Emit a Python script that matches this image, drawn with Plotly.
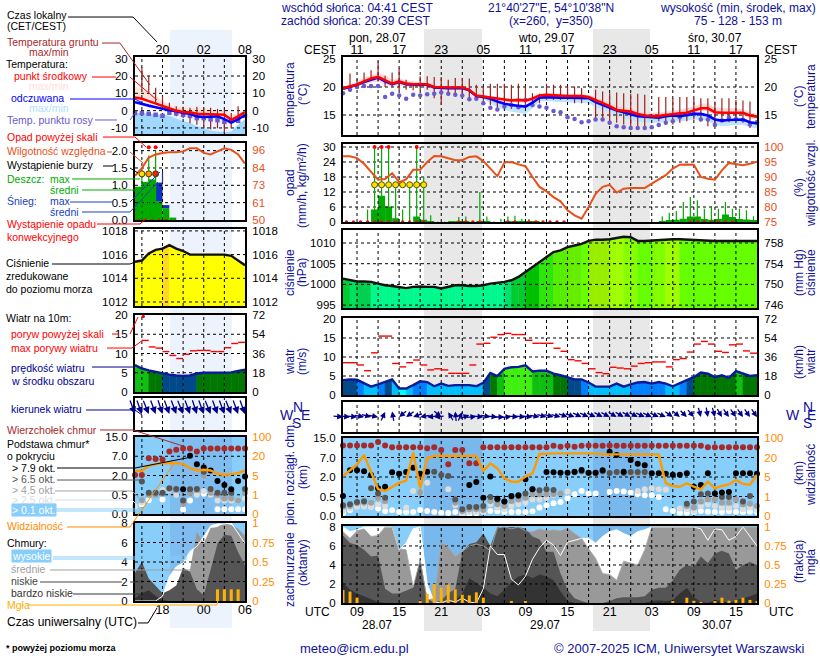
import math
import plotly.graph_objects as go

W, H = 820, 660
FONT = "Liberation Sans"
NAVY = "#10109a"
SKY = "#87cefa"

# ---- big panel: one value per hour, h = hours since 28.07 00 UTC ----
hours = list(range(7, 67))
temp_mid = [19.8,20.1,20.4,21,21.5,21.8,21.2,20.6,21,20.6,
            20.5,20.5,20.5,20,19.9,19.9,19.9,19.9,19.5,18.5,
            18.3,18.1,17.9,17.7,17.6,17.7,17.6,17.9,18.5,18.6,
            18.5,18.5,18.4,18.4,18.4,18.2,17.7,17.1,16.6,15.9,
            15.8,15.6,15.2,14.9,14.8,14.8,15,15.2,15.3,15.4,
            15.8,16.2,16.2,15.5,15.4,15.4,15.5,15.4,14.9,14.7]
temp_feel = [19.7,20,20.4,20.9,21.3,21.7,21,20.5,20.9,20.5,
             20.4,20.4,20.4,19.9,19.8,19.8,19.8,19.8,19.4,18.4,
             18.2,17.9,17.4,17,16.8,16.7,16.5,17.2,18.1,18.2,
             18.1,18.1,18.1,18.1,18.1,18,17.3,16.8,16.3,15.8,
             15.5,15.1,14.8,14.7,14.6,14.5,14.8,14.9,14.8,15,
             15.2,15.2,14.9,14.2,14,14.1,14.2,14.2,13.7,13.5]
temp_hi = [19.9,20.4,21,21.6,22.1,22.6,22.1,21.3,21.5,21.2,
           21,20.9,20.7,20.2,20.1,20,20,20,19.7,18.8,
           18.6,18.3,18.1,18,17.9,18,17.9,18.3,18.8,18.9,
           18.8,18.8,18.7,18.7,18.7,18.6,18.2,17.8,17.3,16.7,
           16.5,16.2,15.8,15.5,15.4,15.5,15.6,15.8,16,16.2,
           16.6,17,17.1,16.4,16.2,16.1,16.2,16,15.5,15.2]
temp_lo = [19.7,19.9,20.2,20.5,20.8,21,20.4,20,20.3,20.1,
           20.1,20,19.9,19.6,19.5,19.4,19.4,19.4,19.1,18.2,
           18,17.8,17.5,17.3,17.2,17.2,17.1,17.5,18.2,18.3,
           18.2,18.2,18.1,18.1,18.1,17.8,17.1,16.5,16,15.4,
           15.3,15.1,14.7,14.5,14.4,14.5,14.7,14.9,15,15.1,
           15.4,15.7,15.7,15,14.9,14.9,15,14.9,14.4,14.2]
feel_lo = [19.5,19.8,20.1,20.6,21,21.3,20.6,20.1,20.6,20.2,
           20.1,20.1,20.1,19.6,19.5,19.5,19.5,19.5,19.1,18.2,
           17.8,17.1,16.4,15.9,15.6,15.4,15.2,16.1,17.4,17.5,
           17.4,17.3,17.3,17.2,17.2,17.1,16.4,15.9,15.4,14.8,
           14.5,14.1,13.8,13.7,13.6,13.6,13.8,13.9,13.8,14,
           14.2,14.2,13.9,13.2,13,13.1,13.2,13.2,12.8,12.6]
dew_point = [18.9,19.5,20,20.2,20.2,20.2,18.2,18.8,18.5,17.9,
             18.6,18.5,18.7,18.8,19,18.8,18.6,18.5,17.8,17.9,
             17.1,16.3,16,16.5,16.8,16.4,17.7,16.8,16.5,16.3,
             15.7,15.5,14.6,14.3,13.7,13.9,14.2,14.2,13.6,13,
             12.8,12.7,12.7,12.7,12.8,13.2,13.6,13.9,14.6,15.1,
             15.2,14.2,14.2,13.2,14,14.5,14.3,14.1,13.3,13.7]
ground_max = [None,22.4,21.5,22.6,23,24.6,22,22.6,23.4,21.3,
              20.6,21.9,21.9,21.8,21.8,21.3,21.6,21.6,21.5,20.4,
              20.1,20.6,20.6,20.6,20.4,20.6,20.2,18.9,18.8,20.6,
              20.4,20.4,20.1,20.1,19.8,None,19.5,19.2,18.9,19,
              18.9,18.8,18.8,18.6,None,18.2,18.2,18,18.2,18.2,
              18,18,18,17.4,18,18,17.7,17.6,17.4,None]
ground_min = [None,20.2,20.1,20.8,21.3,21,20,20.1,19.4,19.5,
              19.4,19.4,19.5,18,16.8,18.6,18.3,18,17.7,17.7,
              17.1,16.8,16.3,16.3,16.1,16.3,16.3,16.8,17.1,17.7,
              17.7,17.7,17.7,17.1,17.1,None,14.2,13.9,13.7,13.6,
              13.3,13,12.7,13,None,13.9,13.6,13.3,13.6,13.9,
              14.2,13.9,13,13,13.9,13.7,13.9,13.6,12.7,None]

rain_mean = [0,0,0,0,5,10.5,6.2,1.5,0,0,
             2.2,.9,.05,0,0,.05,.05,.05,0,.1,
             .2,0,0,.1,.3,.3,.1,.1,0,0,
             0,0,0,0,0,0,0,0,0,0,
             0,0,0,0,0,.4,.7,.9,1.3,2.2,
             2.2,1.2,.9,1.2,3,2,1.2,1,.6,0]
rain_max = [0,0,0,5,30,30,30,15,5,15,
            30,18,2.7,.2,.2,.2,2,2.2,.3,12,
            2.2,.2,1.3,2.2,2.5,1.3,1.2,.3,.2,0,
            0,0,0,0,0,0,0,0,0,0,
            0,0,0,0,0,2.3,3.7,4.4,8,10,
            8.7,5.3,6.4,5.3,8,5.3,5.3,4.7,2.3,0]
rain_over_x = [11.5, 12.5, 13.5, 17.5]
storm_x = [11.5, 12.5, 13.5, 14.5, 15.5, 16.5, 17.5, 18.5]
conv_x = [7.5,8.5,9.5,10.5,11.5,12.5,13.5,14.5,15.5,16.5,17.5,18.5,
          23.5,24.5,25.5,26.5,30.5,31.5,33.5,34.5,35.5,36.5,37.5,38.5,
          56.5,57.5,58.5,59.5,60.5,61.5,62.5]
humidity = [96.9,96.9,96.3,94.4,91.7,89.1,89.3,91.3,88.3,89.2,
            92.4,92.4,95,97,96.9,96.2,95.6,95.6,96.7,96.9,
            95.3,92.8,90.3,94.8,95,94.2,93.6,90,86.7,85.2,
            83.3,81.9,78.9,77.2,76.1,80,84.4,86.7,87.4,84.8,
            86.1,86.3,86.3,86.3,87.8,89.2,90.6,92.8,94.1,94.2,
            94.1,90,89.4,89.1,92.2,94.7,94.4,93.9,94.4,95.1]

pressure = [1001.4,1001,1000.7,1000.7,1000.6,1000.2,999.8,999.6,999.4,999.1,
            999.4,999.5,999.4,999.4,999,999.4,999.8,999.8,999.6,999.6,
            999.8,1000.2,1000.4,1000.6,1001,1001.8,1003,1004.2,1005.4,1006.8,
            1007.8,1008.2,1009,1009.4,1009.8,1010.5,1010.8,1010.8,1010.9,1011.2,
            1011.5,1011.4,1010.5,1010.5,1010.6,1010.8,1010.8,1010.9,1010.9,1010.8,
            1010.8,1010.6,1010.5,1010.5,1010.5,1010.5,1010.5,1010.5,1010.5,1010.5]
pressure_colors = ["#00cc33","#00e060","#00d050","#00d050"] + ["#00f88c"] * 19 + \
    ["#00e070","#00cc30","#00cc30","#00c000","#00c000","#2ee60a","#2ee60a",
     "#55ee00","#55ee00","#66ee00","#66ee00"] + ["#66ff00"] + ["#99ee00"] * 3 + \
    ["#a0ff00"] * 2 + ["#88ff00"] * 2 + ["#66ff00"] * 2 + ["#80ff00"] * 2 + \
    ["#a0ff00"] * 2 + ["#66ff00"] * 11

wind = [3.9,4.1,4,3,2.2,2.8,3.4,4.1,1.7,1.7,
        2.6,3.6,3.4,2.3,3,2.4,2.6,2.6,2.6,2.3,
        3.2,5.8,5,6.9,7.3,7.4,7.8,6.2,6.4,6.4,
        5.6,5.2,4.7,4.1,4.1,3.3,2.2,2.2,2.2,3,
        2.2,2.8,3.3,3.4,3,3.4,3,2.3,3.2,3.9,
        4.7,5.9,5.6,4.7,5.2,4.5,6.3,5.6,5,5.2]
gust = [8.5,8.5,7.9,6.4,11.1,15.5,15.5,8.3,7.4,8.5,
        9.2,7.9,6.6,6.9,6.6,5.7,5.7,5.7,7.9,13.4,
        13.6,15.2,15.9,16.2,15.9,15.9,14.4,13.6,13.6,13.6,
        12.3,11.5,9.3,9,8.3,6.9,5.9,5.6,7.3,7.1,
        6.9,7.6,8.3,8.5,8.7,8.7,7.4,9.3,9.6,11.3,
        13.4,14.1,13.4,11.5,11.2,13.2,13.4,11.6,11]
wind_to = [95,95,95,100,105,100,25,350,230,235,
           250,260,265,265,130,330,355,25,70,85,
           95,100,95,90,85,95,95,95,100,105,
           105,105,110,110,115,115,115,118,118,120,
           120,120,118,115,115,115,115,125,130,135,
           140,165,170,165,150,145,145,145,145,145]

# heights on the cloud axis, whose ticks (0, .5, 2, 7, 15 km) are evenly spaced
cloud_top = [3.61,3.61,3.61,3.61,3.61,3.79,3.61,3.52,3.52,3.52,
             3.52,3.52,3.47,3.52,3.38,2.65,3.38,3.38,2.7,2.7,
             3.52,3.52,3.52,3.52,3.52,3.52,3.52,3.52,3.52,3.52,
             3.6,3.55,3.6,3.55,3.6,3.62,3.6,3.6,3.62,3.6,
             3.6,3.6,3.6,3.6,3.6,3.6,3.6,3.6,3.6,3.6,
             3.6,3.6,3.52,3.52,3.52,3.52,3.52,3.52,3.52,3.52]
base_79 = [1.03,2.34,2.34,2.29,2.1,1.42,1.5,2.24,2.17,2.26,
           2.48,2.17,2.27,None,None,None,None,None,1.59,1.74,
           .94,2.02,.89,.74,1.03,1.06,1.88,1.37,None,2.26,
           2.24,2.22,2.22,2.27,2.36,2.22,2.22,2.34,3.3,3.13,
           2.27,2.87,2.68,2.6,2.19,2.19,2.17,2.12,2.12,2.19,
           1.5,1.59,2.19,1.16,1.2,1.23,2.19,2.19,2.19,2.17]
base_65 = [.55,.6,.72,.75,1.42,1.16,.94,None,None,None,
           None,None,None,2.27,2.1,2.05,.85,.34,.46,.46,
           .51,.97,.85,.74,1,1.03,1.16,1.37,1.32,1.37,
           1.33,None,None,2.24,2.3,2.2,2.2,2.3,2.2,2.25,
           2.2,2.25,2.25,2.25,None,None,None,None,None,.63,
           .74,1.11,1.16,None,.97,.97,None,.74,1.03,None]
base_45 = [.48,.51,.65,.68,.68,.94,.77,None,None,None,
           None,1.2,None,None,None,None,.68,.26,.34,.34,
           .31,.77,.6,.51,.77,.85,.94,1.11,1.11,1.11,
           1.11,1.16,None,None,None,None,None,None,None,None,
           None,2.19,2.19,2.22,None,None,None,None,None,.51,
           .43,.74,.85,.85,.68,.68,.85,.6,.63,.51]
base_25 = [.26,.38,.46,.48,.48,.6,.51,None,None,.43,
           1.28,1.2,1.71,None,None,1.37,.55,.14,.2,.2,
           .2,.6,.43,.34,.51,.6,.68,.85,.85,.94,
           1.06,None,1.25,None,None,None,None,None,None,None,
           None,None,1.28,1.37,1.42,1.37,1.35,None,.39,.34,
           .26,.51,.6,.51,.43,.43,.51,.34,.43,.31]
base_01 = [.14,.31,.51,.51,.48,.39,.26,.29,.2,.2,
           .2,.31,.26,.2,.17,.15,.2,.09,.09,.14,
           .22,.26,.24,.2,.2,.2,.2,.24,.43,.55,
           .65,.72,.91,1.11,1.28,1.16,1.16,None,1.23,1.28,
           1.25,1.2,1.11,1.06,1.06,.97,.34,.26,.17,.17,
           .2,.26,.22,.2,.2,.24,.2,.2,.22,.2]
visibility = [2.05,2.36,2.65,3.13,2.2,1.37,1.28,1.47,1.7,1.81,
              3.26,1.42,2.96,3.08,3.08,3.08,3.08,3.08,3.08,3.08,
              2.31,2.7,2.44,1.93,1.76,1.76,2.02,2.19,3.18,3.21,
              3.21,3.21,3.21,3.21,3.21,3.24,3.21,3.16,3.16,3.16,
              3.16,3.16,3.16,3.16,3.16,3.16,1.68,1.54,1.5,1.68,
              1.5,1.37,1.76,1.42,1.54,1.62,1.85,1.65,1.6,2.1]

cloud_high = [8,7.5,7.7,8,8,8,8,8,5.6,6.3,
              7.8,8,2,.1,0,.3,.1,.5,.1,0,
              1.5,6,5.1,5.1,2.5,1.9,2.8,4.6,5.8,6.6,
              6.1,5,6.4,6.6,6.8,6.8,6.3,7,7.5,7.7,
              7.3,7,7.5,7.7,8,8,8,8,8,8,
              8,7.8,6.6,7.8,7.7,6.6,7,8,7,6]
cloud_mid = [7.5,6.8,7.6,7.8,7,7.1,8,8,5.7,5.6,
             1.7,4.5,.3,.5,6.4,5.9,4.9,5.5,6,6.2,
             6,5.5,7.9,8,7.8,8,7.6,7.5,7.8,7.6,
             7.7,7.6,7.9,7.3,6.8,5.7,4.7,3.1,3,2.4,
             4.4,4.2,4,5.6,8,8,8,8,8,8,
             8,8,8,8,8,8,8,8,8,8]
cloud_low = [7.1,6.3,6.1,5.6,4.9,5,1.5,1,1,1.3,
             1.6,4.7,.5,0,.3,1,1.5,5.3,6.2,6.4,
             7.3,6,8,8,8,8,7.8,7,6.7,5.4,
             5.4,3.1,1.4,.5,.2,0,0,0,.2,.5,
             .6,.6,.6,.7,1.4,1.6,1.6,2.4,3.5,4,
             3.8,4.9,4.2,5.2,5.5,5.2,3.5,4,4.3,4]
cloud_vlow = [2.1,1.4,1,.7,.4,.1,0,0,0,0,
              0,0,0,0,0,0,.3,1,2.6,2.1,
              1.6,1,.7,1.4,2.2,2.8,3,2.6,3,2.8,
              2.4,1.2,.2,0,0,0,0,0,0,0,
              0,0,0,0,.2,.3,.2,.3,1,1.6,
              .6,.1,0,.3,.2,0,.3,.5,.7,1]
fog_x = [7,8,9,18,19,20,21,22,23,24,25,26,27,31,33,54,56,57,58,60,61,62,63,64,65,66]
fog = [.17,.15,.07,.02,.12,.25,.2,.24,.18,.11,.1,.14,.07,.02,.02,
       .02,.07,.03,.01,.02,.07,.03,.04,.07,.04,.02]

# ---- small legend panel: one value per hour, UTC hour 14 .. 30 ----
leg_t = list(range(14, 31))
leg_mid = [7.5,6.9,5.5,4.1,2.5,1.2,0,-.8,-1,-1.8,-2,-2,-2.4,-2.4,-5.3,-3.3,-.8]
leg_feel = [4.9,4.1,2.9,2,1,.2,-.4,-1.4,-1.8,-3.3,-3.7,-3.7,-3.3,-4.9,-6.9,-4.9,-2.7]
leg_hi = [13.9,12.4,10.4,8.4,5.5,3.5,2.5,2.2,1.6,1.6,1.6,1,-.4,-.4,-2.4,-1.4,.6]
leg_feel_hi = [-1.4,-1.4,-1.6,-2,-2.3,-3,-4.5,-6,-7,-9,-10,-11.5,-12,-12.3,-12,-8,-5]
leg_dew = [-1.4,-1.4,-1.8,-2.4,-3,-1.2,-1.6,-2.4,-3,-4.3,-4.3,-5,-5.5,-6.5,-6,-5.9,-3]
leg_ground_max = [None,25.1,20.2,13.3,8.4,4.5,2.5,2.2,1.6,2.2,1.6,1.6,1,.6,-1.4,2.5,None]
leg_ground_min = [None,12.4,10.4,4.5,1.6,-2.4,-3.3,-4.3,-7.3,-8.2,-10.2,-10.8,-10.2,-13.1,-10.2,-5.3,None]
leg_rain = [.96,1.1,1.17,.53,.34,.07]
leg_snow = [0,0,0,.55,.09,0]
leg_rain_max = [1.33,1.86,2.0]
leg_snow_max = [1.39]
leg_hum = [79,84,91,93,94,94.5,94.5,95,97,97,94,93,95,97,96,93,87]
leg_press = [1015.4,1015.5,1016.1,1016.4,1016.5,1016.8,1016.5,1016.3,1016,1016,
             1016,1016,1016,1016,1015.9,1015.5,1015.1]
leg_press_colors = ["#ffff00"] * 4 + ["#ffd820"] + ["#ffff00"] * 11
leg_wind = [7,6.1,5.6,5.2,4.8,4.5,4.3,4.2,4.3,4.8,5,5,5,5,5.1,5.5,5.8]
leg_gust = [None,13.4,11.7,11.4,10.5,9.5,8.7,9.8,10.7,10.8,10.8,10.5,10.5,11.5,12.6,12.9]
leg_wind_to = [160,160,158,160,162,160,160,158,160,162,160,158,160,160,158,160,160]
leg_top = [2.03,2.03,2.9,2.86,2.83,3.25,3.34,3.4,3.4,3.25,3.4,3.4,3.4,3.4,3.4,3.4,3.4]
leg_79 = [None,None,None,None,None,None,None,1.29,3.03,2.59,2.42,2.26,1.72,1.51,1.29,1.72,1.95]
leg_65 = [None,1.69,1.1,1.1,1.1,1.34,1.3,.7,1.29,1.3,2.2,1.3,1.1,1.1,1.1,None,1.3]
leg_45 = [None,.72,1,1,1.05,1.3,1.25,.55,1.1,1.25,2,1.1,1,.8,.8,.7,1.1]
leg_25 = [.4,.6,None,None,1.25,1.25,1,None,None,1,1.2,1,.7,.7,.7,.7,.8]
leg_01 = [None,.5,.72,None,.75,None,None,.24,.7,None,1.05,1.1,.25,.25,.25,.25,.25]
leg_vis = [2.24,2.24,2.5,2.59,2.64,2.64,2.64,2.59,2.38,2.26,2.3,2.26,2.09,2.03,2.07,2.12,2.26]
leg_high = [0,0,0,0,.5,2.5,3.5,3.9,5.1,5.6,6.6,7.7,7.9,7.9,8,7,5.9]
leg_cmid = [0,0,0,0,0,.5,1,1.5,3.2,7.1,5.9,7.5,7.6,8,7.8,7.4,6.7]
leg_low = [2.9,4,2.3,1.5,.8,1.1,1.6,3.4,3,1.2,.6,3.2,5.9,6.8,6.7,5,3.7]
leg_vlow = [.3,.8,1.1,.5,.1,0,0,0,0,0,0,0,0,0,0,0,0]
leg_fog_x = [26, 27, 28, 29]
leg_fog = [.15, .15, .15, .15]

fig = go.Figure()
layout = {}
n_axes = 0
DOT_COLORS = ["#ffffff", "#dddddd", "#a0a0a0", "#555555", "#000000"]


def new_panel(x0, x1, top, bot, xr, yr, yticks, ytext, rr=None, rticks=None, rtext=None,
              rcolor="black", xside=None, xticks=None, xtext=None, ycolor="black"):
    global n_axes
    n_axes += 1
    xa, ya = n_axes, n_axes
    n_axes += 1
    ra = n_axes
    tick_font = dict(family=FONT, size=11.5, color=ycolor)
    layout[f"xaxis{xa}"] = dict(
        domain=[x0 / W, x1 / W], range=xr, anchor=f"y{ya}", showgrid=False, zeroline=False,
        showline=True, mirror=True, linecolor="black", linewidth=2,
        ticks="outside" if xside else "", ticklen=2, tickcolor="rgba(0,0,0,0)", ticklabelstandoff=-6,
        side=xside or "bottom", tickvals=xticks or [], ticktext=xtext or [],
        tickfont=dict(family=FONT, size=12.5, color="black"), fixedrange=True)
    layout[f"yaxis{ya}"] = dict(
        domain=[1 - bot / H, 1 - top / H], range=yr, anchor=f"x{xa}", showgrid=False, zeroline=False,
        showline=True, mirror=True, linecolor="black", linewidth=2, ticks="outside" if yticks else "",
        ticklen=3, tickcolor="rgba(0,0,0,0)", tickvals=yticks, ticktext=ytext, tickfont=tick_font,
        fixedrange=True)
    if rr is not None:
        layout[f"yaxis{ra}"] = dict(
            overlaying=f"y{ya}", side="right", range=rr, anchor=f"x{xa}", showgrid=False, zeroline=False,
            showline=False, ticks="outside", ticklen=4, tickcolor="rgba(0,0,0,0)", tickvals=rticks,
            ticktext=rtext, tickfont=dict(family=FONT, size=11.5, color=rcolor), fixedrange=True)
        fig.add_trace(go.Scatter(x=[None], y=[None], xaxis=f"x{xa}", yaxis=f"y{ra}", mode="lines",
                                 showlegend=False, hoverinfo="skip"))
    return f"x{xa}", f"y{ya}", f"y{ra}"


def line(ax, x, y, color, width=2, **kw):
    fig.add_trace(go.Scatter(x=x, y=y, xaxis=ax[0], yaxis=ax[1], mode="lines", showlegend=False,
                             line=dict(color=color, width=width), hoverinfo="skip", **kw))


def dots(ax, x, y, color, size=6, symbol="circle", outline=None):
    fig.add_trace(go.Scatter(x=x, y=y, xaxis=ax[0], yaxis=ax[1], mode="markers", showlegend=False,
                             cliponaxis=False, hoverinfo="skip",
                             marker=dict(color=color, size=size, symbol=symbol,
                                         line=dict(color=outline or "rgba(0,0,0,0)", width=1 if outline else 0))))


def band(ax, x, hi, lo, color):
    fig.add_trace(go.Scatter(x=x + x[::-1], y=hi + lo[::-1], xaxis=ax[0], yaxis=ax[1], mode="none",
                             fill="toself", fillcolor=color, showlegend=False, hoverinfo="skip"))


def vbars(ax, x, lo, hi, color, width=1.2):
    xs, ys = [], []
    for a, b, c in zip(x, lo, hi):
        if b is None or c is None:
            continue
        xs += [a, a, None]
        ys += [b, c, None]
    line(ax, xs, ys, color, width)


def hbars(ax, x, y, color, width=1.4):
    xs, ys = [], []
    for a, b in zip(x, y):
        if b is None:
            continue
        xs += [a, a + 1, None]
        ys += [b, b, None]
    line(ax, xs, ys, color, width)


def blocks(ax, x, base, h, color):
    fig.add_trace(go.Bar(x=x, y=h, base=base, width=1, xaxis=ax[0], yaxis=ax[1], marker_color=color,
                         marker_line_width=0, showlegend=False, hoverinfo="skip"))


def stripes(ax, x, y, colors, floor):
    for i in range(len(x) - 1):
        c = colors[i]
        fig.add_trace(go.Scatter(x=[x[i], x[i], x[i + 1], x[i + 1], x[i]],
                                 y=[floor, y[i], y[i + 1], floor, floor],
                                 xaxis=ax[0], yaxis=ax[1], mode="lines", fill="toself", fillcolor=c,
                                 line=dict(color=c, width=0.6), showlegend=False, hoverinfo="skip"))


def grid(ax, xvals, yvals, xr, yr):
    xs, ys = [], []
    for v in xvals:
        xs += [v, v, None]
        ys += [yr[0], yr[1], None]
    for v in yvals:
        xs += [xr[0], xr[1], None]
        ys += [v, v, None]
    fig.add_trace(go.Scatter(x=xs, y=ys, xaxis=ax[0], yaxis=ax[1], mode="lines", showlegend=False,
                             line=dict(color="black", width=1, dash="3px,3px"), hoverinfo="skip"))


def wind_color(v):
    if v < 2:
        return "#00ffff"
    if v < 3:
        return "#00bfff"
    if v < 3.7:
        return "#0080ff"
    if v < 4.8:
        return "#004a8a"
    if v < 5.8:
        return "#007700"
    if v < 6.8:
        return "#10c010"
    return "#40f010"


def text(x, y, s, color="black", size=12, anchor="left", angle=0, bg=None):
    fig.add_annotation(x=x / W, y=1 - y / H, xref="paper", yref="paper", text=s, showarrow=False,
                       xanchor=anchor, yanchor="middle", textangle=angle, bgcolor=bg, borderpad=0,
                       font=dict(family=FONT, size=size, color=color))


def leader(points, color, width=1):
    path = "M " + " L ".join(f"{x / W:.4f} {1 - y / H:.4f}" for x, y in points)
    fig.add_shape(type="path", path=path, xref="paper", yref="paper", layer="above",
                  line=dict(color=color, width=width))


def arrows(ax, x, bearings, length, head=.9):
    for a, b in zip(x, bearings):
        dx = -math.sin(math.radians(b)) * length
        dy = math.cos(math.radians(b)) * length
        shift = max(0, dy) / 2
        fig.add_annotation(x=a, y=0.5, xref=ax[0], yref=ax[1], ax=dx, ay=dy, axref="pixel", ayref="pixel",
                           showarrow=True, arrowhead=2, arrowsize=head, arrowwidth=1.3, arrowcolor="#00008b",
                           text="", yshift=shift)


def back_rect(x0, x1, top, bot, color):
    fig.add_shape(type="rect", xref="paper", yref="paper", x0=x0 / W, x1=x1 / W, y0=1 - bot / H, y1=1 - top / H,
                  fillcolor=color, line_width=0, layer="below")


# ---- night strips behind everything, sky of the cloud panels on top of them ----
back_rect(424, 482, 29, 631, "#e8e8e8")
back_rect(593, 650, 29, 631, "#e8e8e8")
back_rect(170, 232, 30, 628, "#edf3fd")
for x0, x1, top, bot, strips, dark in [(343, 757, 438, 516, [(424, 482), (593, 650)], "#78b8ec"),
                                       (343, 757, 526, 603, [(424, 482), (593, 650)], "#78b8ec"),
                                       (135, 245, 437, 514, [(170, 232)], "#7fbcf0"),
                                       (135, 245, 523, 601, [(170, 232)], "#7fbcf0")]:
    back_rect(x0, x1, top, bot, SKY)
    for s0, s1 in strips:
        back_rect(s0, s1, top, bot, dark)

XR = [7, 66]
XG = list(range(9, 66, 3))
LR = [14, 30]
LG = [15, 18, 21, 24, 27]
T6 = list(range(9, 66, 6))
base_ticks = [0, 1, 2, 3, 4]
base_text = ["0.0", "0.5", "2.0", "7.0", "15.0"]
vis_text = ["0", "1", "5", "20", "100"]

# ---------------- big panel: temperature ----------------
yr = [11.43, 25.36]
ax = new_panel(343, 757, 57, 135, XR, yr, [15, 20, 25], ["15", "20", "25"], yr, [15, 20, 25], ["15", "20", "25"],
               xside="top", xticks=T6, xtext=["11", "17", "23", "05", "11", "17", "23", "05", "11", "17"])
band(ax, hours, temp_hi, temp_lo, "#ffd8d8")
band(ax, hours, temp_feel, feel_lo, "#bfe4ff")
grid(ax, XG, [15, 20], XR, yr)
vbars(ax, hours, ground_min, ground_max, "#a02020")
dots(ax, hours, dew_point, "#6a5acd", 4.5)
line(ax, hours, temp_feel, "#0000ff", 2.6)
line(ax, hours, temp_mid, "#ff0000", 2.6)

# ---------------- big panel: precipitation + humidity ----------------
yr = [0, 31.2]
ax = new_panel(343, 757, 144, 222, XR, yr, [0, 6, 12, 18, 24, 30], ["0", "6", "12", "18", "24", "30"],
               [75, 101], [75, 80, 85, 90, 95, 100], ["75", "80", "85", "90", "95", "100"], rcolor="#e8501a")
blocks(ax, [h + .5 for h in hours], None, rain_mean, "#00aa00")
grid(ax, XG, [6, 12, 18, 24, 30], XR, yr)
vbars(ax, [h + .5 for h in hours], [0] * 60, rain_max, "#00aa00", 1.2)
dots(ax, storm_x, [14.9] * len(storm_x), "#ffe000", 6, outline="#555500")
dots(ax, rain_over_x, [30] * len(rain_over_x), "#ff0000", 4)
dots(ax, conv_x, [0] * len(conv_x), "#e01010", 3.5)
line((ax[0], ax[2]), hours, humidity, "#e8501a", 2)

# ---------------- big panel: pressure ----------------
yr = [994.3, 1013.14]
ax = new_panel(343, 757, 230, 308, XR, yr, [995, 1000, 1005, 1010], ["995", "1000", "1005", "1010"],
               [745.4, 760.5], [746, 750, 754, 758], ["746", "750", "754", "758"])
stripes(ax, hours, pressure, pressure_colors, yr[0])
grid(ax, XG, [995, 1000, 1005, 1010], XR, yr)
line(ax, hours, pressure, "#111111", 2.4)

# ---------------- big panel: wind ----------------
yr = [0, 20.26]
ax = new_panel(343, 757, 318, 395, XR, yr, [0, 5, 10, 15, 20], ["0", "5", "10", "15", "20"],
               [0, 72.9], [0, 18, 36, 54, 72], ["0", "18", "36", "54", "72"])
stripes(ax, hours, wind, [wind_color((a + b) / 2) for a, b in zip(wind, wind[1:])], 0)
grid(ax, XG, [5, 10, 15], XR, yr)
hbars(ax, hours, gust, "#ff0000")
line(ax, hours, wind, "#0a1a9a", 2.4)

# ---------------- big panel: wind direction ----------------
ax = new_panel(343, 757, 402, 432, XR, [0, 1], [], [])
grid(ax, XG, [], XR, [0, 1])
arrows(ax, hours, wind_to, 11)

# ---------------- big panel: cloud height + visibility ----------------
yr = [0, 4]
ax = new_panel(343, 757, 438, 516, XR, yr, base_ticks, base_text, yr, base_ticks, vis_text, rcolor="#ff8c00")
grid(ax, XG, [1, 2, 3], XR, yr)
for vals, col in zip([base_01, base_25, base_45, base_65, base_79], DOT_COLORS):
    dots(ax, hours, vals, col, 6)
dots(ax, hours, cloud_top, "#a52a2a", 6)
line(ax, hours, visibility, "#ff9900", 2.4)

# ---------------- big panel: cloud cover + fog ----------------
yr = [0, 8.1]
ax = new_panel(343, 757, 526, 603, XR, yr, [0, 2, 4, 6, 8], ["0", "2", "4", "6", "8"],
               [0, 1.0125], [0, .25, .5, .75, 1], ["0", "0.25", "0.5", "0.75", "1"], rcolor="#ff8c00",
               xside="bottom", xticks=T6, xtext=["09", "15", "21", "03", "09", "15", "21", "03", "09", "15"])
for vals, col in zip([cloud_high, cloud_mid, cloud_low, cloud_vlow], ["#ffffff", "#999999", "#555555", "#333333"]):
    line(ax, hours, vals, col, 0, fill="tozeroy", fillcolor=col)
grid(ax, XG, [2, 4, 6], XR, yr)
line(ax, hours, cloud_high, "#ffffff", 1)
line(ax, hours, cloud_mid, "#aaaaaa", .8)
fig.add_trace(go.Bar(x=fog_x, y=fog, width=.42, xaxis=ax[0], yaxis=ax[2], marker_color="#ffb000",
                     marker_line_width=0, showlegend=False, hoverinfo="skip"))

# ---------------- legend panel ----------------
yr = [-13.5, 31]
t = [-10, 0, 10, 20, 30]
ts = ["-10", "0", "10", "20", "30"]
ax = new_panel(135, 245, 57, 134, LR, yr, t, ts, yr, t, ts, xside="top", xticks=[18, 24, 30], xtext=["20", "02", "08"])
band(ax, leg_t, leg_hi, leg_mid, "#ffe4d8")
band(ax, leg_t, leg_feel_hi, [-13.5] * 17, "#a0d8ff")
grid(ax, LG, [-10, 0, 10, 20], LR, yr)
vbars(ax, leg_t, leg_ground_min, leg_ground_max, "#a02020")
dots(ax, leg_t, leg_dew, "#6a5acd", 4.5, "square")
line(ax, leg_t, leg_feel, "#0000ff", 2.6)
line(ax, leg_t, leg_mid, "#ff0000", 2.6)

yr = [0, 2.22]
ax = new_panel(135, 245, 143, 220, LR, yr, [0, .5, 1, 1.5, 2], ["0.0", "0.5", "1.0", "1.5", "2.0"],
               [50, 100.5], [50, 61, 73, 84, 96], ["50", "61", "73", "84", "96"], rcolor="#e8501a")
leg_bar_t = [14.5, 15.5, 16.5, 17.5, 18.5, 19.5]
blocks(ax, leg_bar_t, None, leg_rain, "#00aa00")
blocks(ax, leg_bar_t, leg_rain, leg_snow, "#1030c0")
grid(ax, LG, [.5, 1, 1.5, 2], LR, yr)
vbars(ax, [15, 16, 17], [0, 0, 0], leg_rain_max, "#00aa00")
vbars(ax, [18], [leg_rain[3] + leg_snow[3]], leg_snow_max, "#1030c0")
dots(ax, [15, 16, 17], [1.33, 1.33, 1.33], ["#ffe000", "#ffa000", "#ff2000"], 6, outline="#444400")
dots(ax, [16, 17], [2.1, 2.1], "#ff0000", 4)
dots(ax, [14.5, 15.5, 16.5, 17.5, 18.5], [0] * 5, "#e01010", 2.5)
line((ax[0], ax[2]), leg_t, leg_hum, "#e8501a", 2)

yr = [1011.66, 1018.16]
ax = new_panel(135, 245, 229, 306, LR, yr, [1012, 1014, 1016, 1018], ["1012", "1014", "1016", "1018"],
               yr, [1012, 1014, 1016, 1018], ["1012", "1014", "1016", "1018"])
stripes(ax, leg_t, leg_press, leg_press_colors, yr[0])
grid(ax, LG, [1012, 1014, 1016, 1018], LR, yr)
line(ax, leg_t, leg_press, "#111111", 2.4)

yr = [0, 20]
ax = new_panel(135, 245, 315, 392, LR, yr, [0, 5, 10, 15, 20], ["0", "5", "10", "15", "20"],
               [0, 72], [0, 18, 36, 54, 72], ["0", "18", "36", "54", "72"])
stripes(ax, leg_t, leg_wind, [wind_color((a + b) / 2) for a, b in zip(leg_wind, leg_wind[1:])], 0)
grid(ax, LG, [5, 10, 15], LR, yr)
hbars(ax, leg_t, leg_gust, "#ff0000")
dots(ax, [15.2], [19.6], "#ff0000", 3.5)
line(ax, leg_t, leg_wind, "#0a1a9a", 2.4)

ax = new_panel(135, 245, 398, 430, LR, [0, 1], [], [])
grid(ax, LG, [], LR, [0, 1])
arrows(ax, leg_t, leg_wind_to, 16, 1.1)

yr = [0, 4]
ax = new_panel(135, 245, 437, 514, LR, yr, base_ticks, base_text, yr, base_ticks, vis_text, rcolor="#ff8c00")
grid(ax, LG, [1, 2, 3], LR, yr)
for vals, col in zip([leg_01, leg_25, leg_45, leg_65, leg_79], DOT_COLORS):
    dots(ax, leg_t, vals, col, 6)
dots(ax, leg_t, leg_top, "#a52a2a", 6)
line(ax, leg_t, leg_vis, "#ff9900", 2.4)

yr = [0, 8]
ax = new_panel(135, 245, 523, 601, LR, yr, [0, 2, 4, 6, 8], ["0", "2", "4", "6", "8"],
               [0, 1], [0, .25, .5, .75, 1], ["0", "0.25", "0.5", "0.75", "1"], rcolor="#ff8c00",
               xside="bottom", xticks=[18, 24, 30], xtext=["18", "00", "06"])
for vals, col in zip([leg_high, leg_cmid, leg_low, leg_vlow], ["#ffffff", "#999999", "#555555", "#333333"]):
    line(ax, leg_t, vals, col, 0, fill="tozeroy", fillcolor=col)
grid(ax, LG, [2, 4, 6], LR, yr)
line(ax, leg_t, leg_high, "#ffffff", 1)
fig.add_trace(go.Bar(x=leg_fog_x, y=leg_fog, width=.45, xaxis=ax[0], yaxis=ax[2], marker_color="#ffb000",
                     marker_line_width=0, showlegend=False, hoverinfo="skip"))

# ---- header ----
text(280, 8, "wschód słońca: 04:41 CEST", NAVY)
text(280, 21, "zachód słońca: 20:39 CEST", NAVY)
text(551, 8, "21°40'27\"E, 54°10'38\"N", NAVY, anchor="center")
text(551, 21, "(x=260,  y=350)", NAVY, anchor="center")
text(738, 8, "wysokość (min, środek, max)", NAVY, anchor="center")
text(738, 21, "75 - 128 - 153 m", NAVY, anchor="center")
text(377, 38, "pon, 28.07", anchor="center")
text(546, 38, "wto, 29.07", anchor="center")
text(715, 38, "śro, 30.07", anchor="center")
text(320, 50, "CEST", anchor="center")
text(781, 50, "CEST", anchor="center")
text(331, 612, "UTC", anchor="right")
text(781, 612, "UTC", anchor="center")
text(377, 625, "28.07", anchor="center")
text(545, 625, "29.07", anchor="center")
text(717, 625, "30.07", anchor="center")
text(354, 648, "meteo@icm.edu.pl", NAVY, 13, "center")
text(679, 648, "© 2007-2025 ICM, Uniwersytet Warszawski", NAVY, 13, "center")

# ---- rotated axis titles ----
for x, y, s in [(290, 95, "temperatura"), (303, 95, "(°C)"), (290, 183, "opad"), (302, 186, "(mm/h, kg/m²/h)"),
                (290, 273, "ciśnienie"), (302, 273, "(hPa)"), (290, 362, "wiatr"), (302, 362, "(m/s)"),
                (290, 474, "pion. rozciągł. chm."), (303, 477, "(km)"), (290, 570, "zachmurzenie"),
                (303, 563, "(oktanty)"), (811, 97, "temperatura"), (799, 97, "(°C)"),
                (811, 183, "wilgotność wzgl."), (799, 188, "(%)"), (811, 273, "ciśnienie"), (799, 273, "(mm Hg)"),
                (811, 362, "wiatr"), (799, 362, "(km/h)"), (811, 475, "widzialność"), (799, 473, "(km)"),
                (811, 562, "mgła"), (799, 562, "(frakcja)")]:
    text(x, y, s, NAVY, anchor="center", angle=-90)
for x, y, s in [(298, 407, "N"), (287, 415, "W"), (305, 415, "E"), (296, 423, "S"),
                (808, 407, "N"), (793, 415, "W"), (811, 415, "E"), (807, 423, "S")]:
    text(x, y, s, NAVY, 14, "center")

# ---- legend texts on the left ----
BROWN = "#a52a2a"
RED = "#ff0000"
GREEN = "#00aa00"
SNOW = "#2040c0"
ORANGE = "#e8501a"
DEEP = "#000090"
for x, y, s, c in [
    (6, 15, "Czas lokalny", "black"), (6, 26, "(CET/CEST)", "black"),
    (6, 42, "Temperatura gruntu", BROWN), (28, 52, "max/min", BROWN), (5, 64, "Temperatura:", "black"),
    (13, 76, "punkt środkowy", RED), (28, 86, "max/min", "#ffe0d8"), (10, 98, "odczuwana", "#0000ff"),
    (28, 108, "max/min", "#b0e0ff"), (6, 120, "Temp. punktu rosy", "#6a5acd"),
    (6, 137, "Opad powyżej skali", RED), (6, 151, "Wilgotność względna", ORANGE),
    (6, 165, "Wystąpienie burzy", "black"), (6, 179, "Deszcz:", GREEN), (49, 179, "max", GREEN),
    (49, 190, "średni", GREEN), (6, 201, "Śnieg:", SNOW), (49, 201, "max", SNOW), (49, 212, "średni", SNOW),
    (6, 224, "Wystąpienie opadu", RED), (6, 237, "konwekcyjnego", RED),
    (5, 263, "Ciśnienie", "black"), (5, 276, "zredukowane", "black"), (5, 289, "do poziomu morza", "black"),
    (5, 318, "Wiatr na 10m:", "black"), (10, 334, "poryw powyżej skali", RED), (10, 348, "max porywy wiatru", RED),
    (10, 368, "prędkość wiatru", DEEP), (10, 381, "w środku obszaru", DEEP), (10, 409, "kierunek wiatru", DEEP),
    (6, 430, "Wierzchołek chmur", BROWN), (6, 444, "Podstawa chmur*", "black"), (6, 456, "o pokryciu", "black"),
    (11, 468, "> 7.9 okt.", "black"), (11, 479, "> 6.5 okt.", "#555555"), (11, 490, "> 4.5 okt.", "#a0a0a0"),
    (11, 500, "> 2.5 okt.", "#dddddd"), (6, 526, "Widzialność", "#ff8c00"), (6, 543, "Chmury:", "black"),
    (10, 569, "średnie", "#a0a0a0"), (10, 581, "niskie", "#444444"), (10, 593, "bardzo niskie", "#333333"),
    (6, 605, "Mgła", "#ffb000"),
]:
    text(x, y, s, c, 10.5)
text(6, 622, "Czas uniwersalny (UTC)", "black", 12)
text(11, 510, "> 0.1 okt.", "white", 10.5, bg=SKY)
text(11, 556, "wysokie", "white", 10.5, bg=SKY)
text(5, 648, "<b>* powyżej poziomu morza</b>", "black", 9)

# ---- leader lines from the legend texts into the legend panels ----
for pts, c in [
    ([(68, 17), (133, 17), (157, 42)], "black"),
    ([(102, 43), (120, 43), (150, 85)], BROWN),
    ([(92, 77), (116, 77)], RED), ([(130, 77), (157, 100)], RED),
    ([(70, 99), (135, 99), (150, 107)], "#0000ff"),
    ([(95, 120), (117, 120)], "#6a5acd"), ([(130, 120), (135, 113)], "#6a5acd"),
    ([(103, 137), (135, 137), (146, 147)], RED),
    ([(107, 152), (112, 152)], ORANGE), ([(130, 152), (143, 163)], ORANGE),
    ([(103, 166), (113, 166)], "black"), ([(130, 168), (138, 173)], "black"),
    ([(72, 179), (140, 179)], GREEN), ([(82, 190), (143, 190)], GREEN),
    ([(70, 202), (113, 202)], SNOW), ([(130, 202), (160, 172)], SNOW),
    ([(82, 212), (130, 212), (158, 182)], SNOW),
    ([(97, 224), (140, 224), (147, 218)], RED),
    ([(52, 264), (130, 264), (135, 262)], "black"),
    ([(112, 334), (119, 334)], RED), ([(130, 334), (138, 317)], RED),
    ([(107, 348), (132, 348), (143, 340)], RED),
    ([(92, 367), (135, 367)], DEEP),
    ([(86, 410), (135, 410), (142, 415)], DEEP),
    ([(100, 430), (133, 430), (183, 446)], BROWN),
    ([(57, 468), (135, 468), (192, 457)], "black"),
    ([(57, 480), (143, 480)], "#555555"),
    ([(55, 491), (132, 491), (143, 502)], "#a0a0a0"),
    ([(55, 500), (132, 500), (137, 505)], "#dddddd"),
    ([(55, 509), (135, 509)], SKY), ([(55, 511), (135, 511)], SKY),
    ([(67, 527), (130, 527), (173, 465)], "#ff8c00"),
    ([(53, 557), (187, 557)], SKY), ([(53, 559), (187, 559)], SKY),
    ([(50, 570), (192, 570)], "#a0a0a0"),
    ([(40, 582), (122, 582)], "#444444"), ([(130, 582), (142, 582)], "#444444"),
    ([(73, 594), (140, 594)], "#333333"),
    ([(27, 605), (217, 605), (218, 600)], "#ffb000"),
    ([(138, 623), (148, 623), (157, 608)], "black"),
]:
    leader(pts, c)

fig.update_layout(width=W, height=H, margin=dict(l=0, r=0, t=0, b=0, autoexpand=False), paper_bgcolor="white",
                  plot_bgcolor="rgba(0,0,0,0)", showlegend=False, barmode="overlay", **layout)
# the page body has a default margin that would shift the whole figure
fig.write_html("out.html", post_script="document.body.style.margin='0';", config={"displayModeBar": False})
